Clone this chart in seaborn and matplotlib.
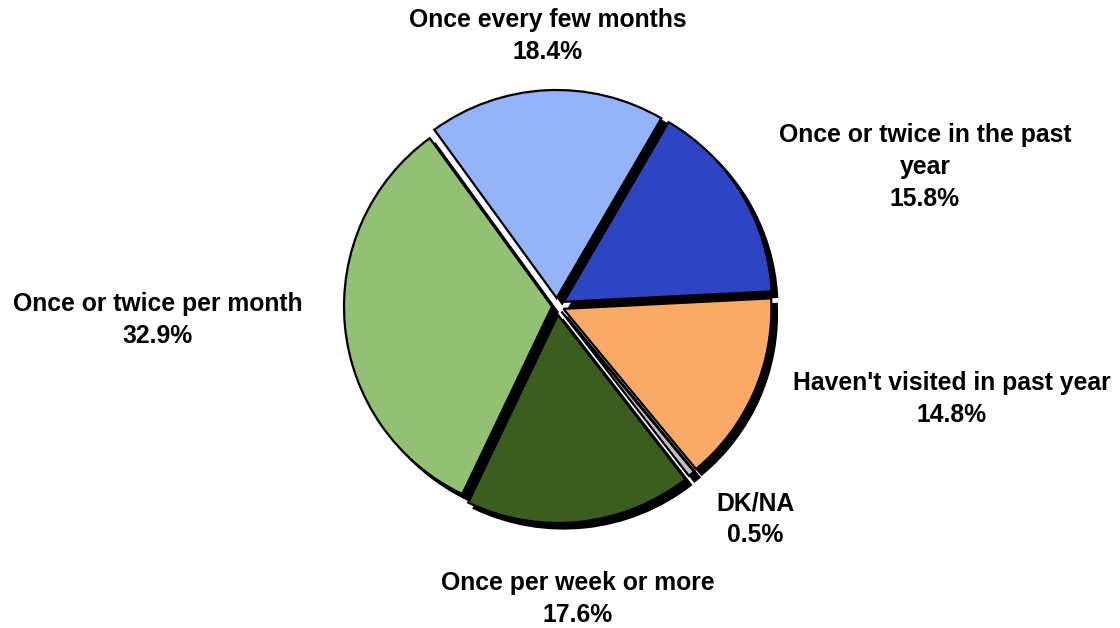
import matplotlib
matplotlib.use("Agg")
import matplotlib.pyplot as plt
import seaborn as sns

categories = ["Once every few months", "Once or twice in the past\nyear",
              "Haven't visited in past year", "DK/NA",
              "Once per week or more", "Once or twice per month"]
values = [18.4, 15.8, 14.8, 0.5, 17.6, 32.9]
colors = ["#94B3F9", "#2E45C3", "#F9AA66", "#C0C0C0", "#3B5E1E", "#92C174"]

sns.set_theme(style="white")
plt.rcParams['font.family'] = ['Liberation Sans', 'DejaVu Sans']

W, H = 1120, 628
fig = plt.figure(figsize=(W / 100, H / 100), dpi=100)
ax = fig.add_axes([0, 0, 1, 1])

explode = [8, 8, 7, 7, 9, 5]
wedges, _ = ax.pie(values, colors=colors, startangle=126, counterclock=False,
                   center=(557, H - 306), radius=208, explode=explode,
                   wedgeprops=dict(edgecolor="black", linewidth=1.6),
                   shadow=dict(ox=4, oy=-4, shade=1.0, alpha=1.0))

label_pos = [(548, 36), (925, 167), (952, 399), (755, 519), (578, 599), (158, 320)]
for cat, v, (x, y) in zip(categories, values, label_pos):
    ax.text(x, H - y, f"{cat}\n{v:.1f}%", ha="center", va="center",
            fontsize=17.8, fontweight="bold", linespacing=1.42, color="black")

ax.set_xlim(0, W)
ax.set_ylim(0, H)
ax.set_aspect("equal")
ax.axis("off")
fig.savefig("out.png", dpi=100)
